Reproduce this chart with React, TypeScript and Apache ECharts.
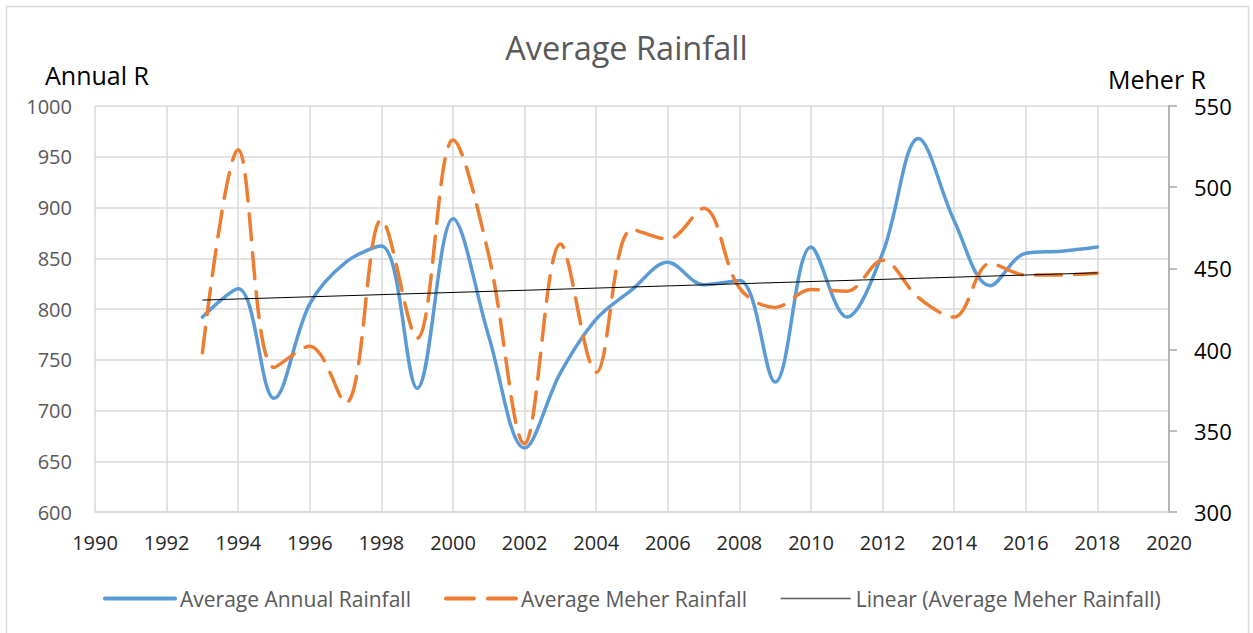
import React, { useEffect, useRef } from "react";
import * as echarts from "echarts";

const years = [1993, 1994, 1995, 1996, 1997, 1998, 1999, 2000, 2001, 2002, 2003, 2004, 2005, 2006, 2007, 2008, 2009, 2010, 2011, 2012, 2013, 2014, 2015, 2016, 2017, 2018];
const annualRainfall = [792, 820, 712, 805, 846, 862, 722, 889, 773, 663, 737, 790, 819, 846, 824, 828, 728, 861, 792, 855, 968, 887, 823, 855, 857, 861];
const meherRainfall = [398, 523, 389, 402, 367, 480, 407, 529, 458, 342, 465, 386, 474, 468, 487, 438, 426, 437, 436, 455, 432, 420, 453, 446, 446, 447];

const seriesNames = ["Average Annual Rainfall", "Average Meher Rainfall", "Linear (Average Meher Rainfall)"];
const titleText = "Average Rainfall";
const leftAxisName = "Annual R";
const rightAxisName = "Meher R";

const BLUE = "#5B9BD5";
const ORANGE = "#ED7D31";

export default function App() {
  const ref = useRef<HTMLDivElement>(null);
  useEffect(() => {
    const chart = echarts.init(ref.current as HTMLDivElement, null, { renderer: "svg" });
    const n = years.length;
    const mx = years.reduce((a, b) => a + b, 0) / n;
    const my = meherRainfall.reduce((a, b) => a + b, 0) / n;
    let sxy = 0;
    let sxx = 0;
    for (let i = 0; i < n; i++) {
      sxy += (years[i] - mx) * (meherRainfall[i] - my);
      sxx += (years[i] - mx) * (years[i] - mx);
    }
    const slope = sxy / sxx;
    const icpt = my - slope * mx;
    const trend = [years[0], years[n - 1]].map((x) => [x, icpt + slope * x]);
    const fmt = (v: number) => String(v);

    chart.setOption({
      animation: false,
      textStyle: { fontFamily: "Open Sans" },
      title: {
        text: titleText,
        left: "center",
        top: 31,
        padding: 0,
        textStyle: { fontSize: 32.5, fontWeight: "normal", color: "#595959", fontFamily: "Open Sans" },
      },
      graphic: [
        {
          type: "rect",
          shape: { x: 6.5, y: 6.5, width: 1242, height: 640 },
          style: { fill: "none", stroke: "#d9d9d9", lineWidth: 1.5 },
          silent: true,
        },
        {
          type: "text",
          left: 45,
          top: 62,
          style: { text: leftAxisName, fontSize: 25, fill: "#000", fontFamily: "Open Sans" },
        },
        {
          type: "text",
          left: 1108,
          top: 66,
          style: { text: rightAxisName, fontSize: 25, fill: "#000", fontFamily: "Open Sans" },
        },
      ],
      grid: { left: 95, right: 84, top: 106, bottom: 121, containLabel: false },
      legend: {
        left: 98,
        top: 583,
        itemWidth: 70,
        itemHeight: 14,
        itemGap: 33,
        itemStyle: { opacity: 0 },
        textStyle: { fontSize: 21, color: "#595959", fontFamily: "Open Sans" },
        data: [
          { name: seriesNames[0], itemStyle: { opacity: 0 }, lineStyle: { color: BLUE, width: 4, cap: "round" } },
          { name: seriesNames[1], itemStyle: { opacity: 0 }, lineStyle: { color: ORANGE, width: 4, type: [28, 14], cap: "round" } },
          { name: seriesNames[2], itemStyle: { opacity: 0 }, lineStyle: { color: "#595959", width: 1.5 } },
        ],
      },
      xAxis: {
        type: "value",
        min: 1990,
        max: 2020,
        interval: 2,
        axisLine: { lineStyle: { color: "#d9d9d9", width: 1.5 } },
        axisTick: { show: false },
        splitLine: { lineStyle: { color: "#d9d9d9", width: 1.5 } },
        axisLabel: { fontSize: 20, color: "#262626", margin: 20, formatter: fmt },
      },
      yAxis: [
        {
          type: "value",
          min: 600,
          max: 1000,
          interval: 50,
          axisLine: { show: false },
          axisTick: { show: false },
          splitLine: { lineStyle: { color: "#d9d9d9", width: 1.5 } },
          axisLabel: { fontSize: 20, color: "#595959", margin: 23, formatter: fmt },
        },
        {
          type: "value",
          position: "right",
          min: 300,
          max: 550,
          interval: 50,
          axisLine: { show: true, lineStyle: { color: "#a6a6a6", width: 1.5 } },
          axisTick: { show: true, length: 8, lineStyle: { color: "#a6a6a6", width: 1.5 } },
          splitLine: { show: false },
          axisLabel: { fontSize: 22, color: "#000", margin: 25, formatter: fmt },
        },
      ],
      series: [
        {
          name: seriesNames[0],
          type: "line",
          data: years.map((y, i) => [y, annualRainfall[i]]),
          smooth: 0.35,
          symbol: "none",
          itemStyle: { color: BLUE },
          lineStyle: { color: BLUE, width: 3.5, cap: "round" },
        },
        {
          name: seriesNames[1],
          type: "line",
          yAxisIndex: 1,
          data: years.map((y, i) => [y, meherRainfall[i]]),
          smooth: 0.35,
          symbol: "none",
          itemStyle: { color: ORANGE },
          lineStyle: { color: ORANGE, width: 3.5, type: [26, 13], cap: "round" },
        },
        {
          name: seriesNames[2],
          type: "line",
          yAxisIndex: 1,
          data: trend,
          symbol: "none",
          itemStyle: { color: "#000" },
          lineStyle: { color: "#000", width: 1 },
        },
      ],
    });
    return () => chart.dispose();
  }, []);
  return <div ref={ref} style={{ position: "absolute", left: 0, top: 0, width: 1253, height: 633 }} />;
}
